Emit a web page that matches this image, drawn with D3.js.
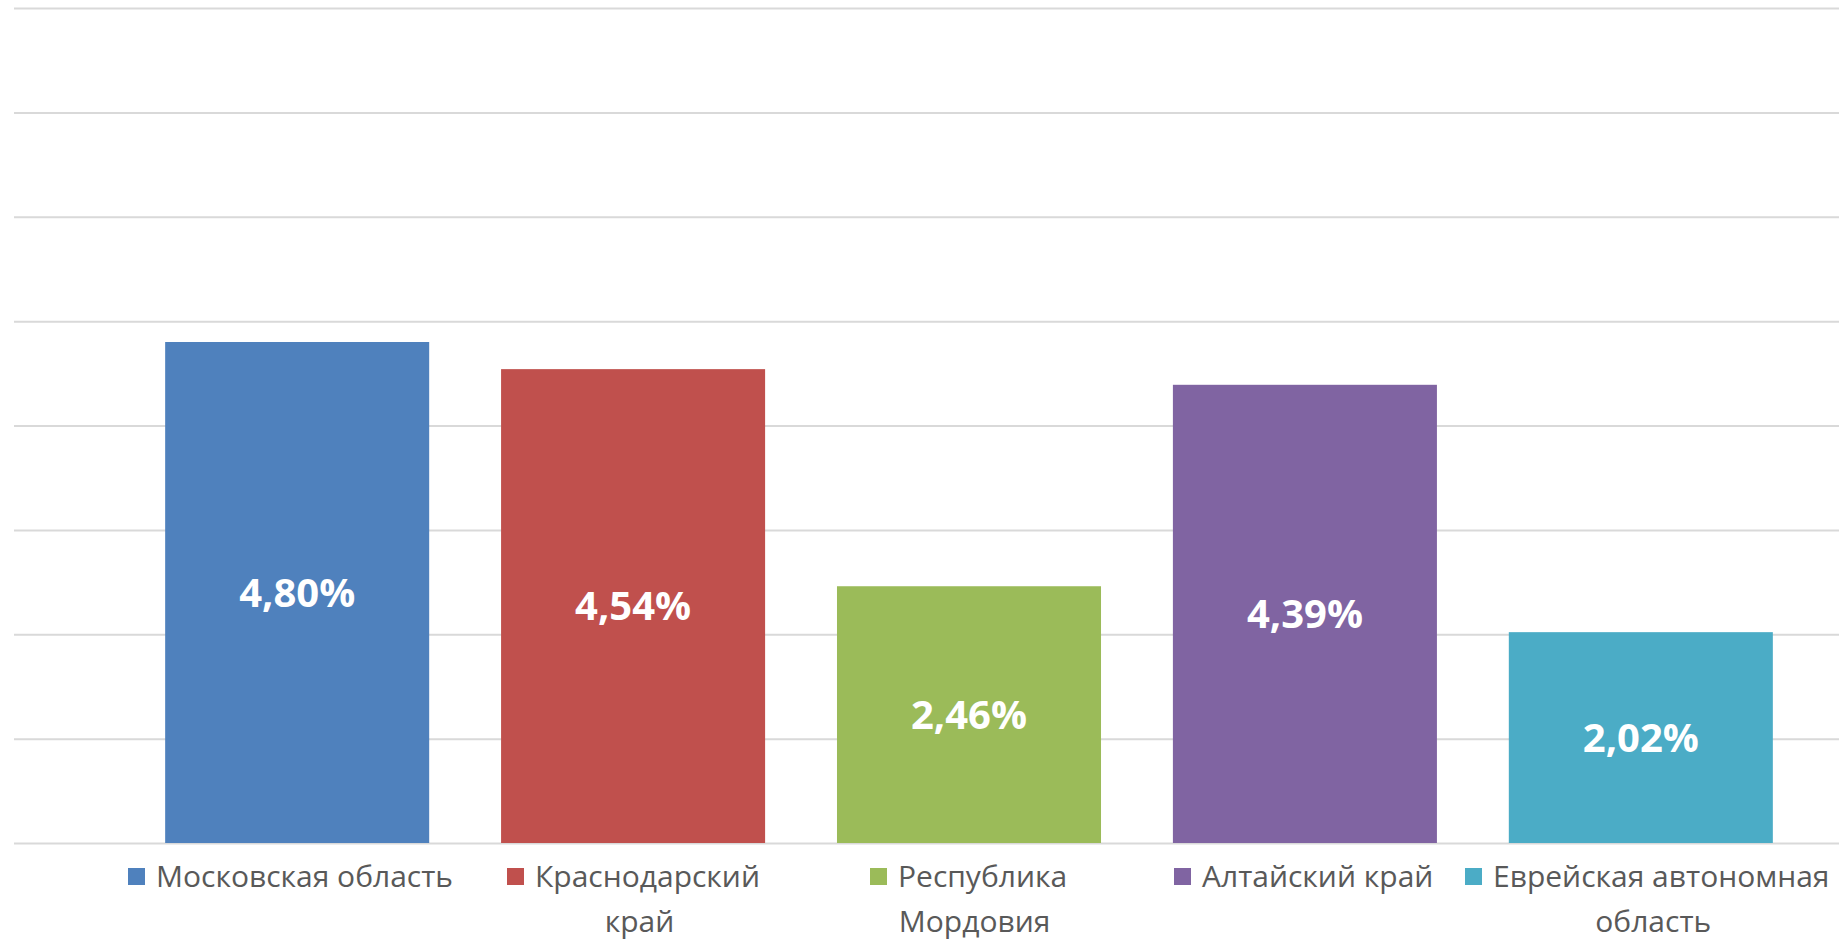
<!DOCTYPE html>
<html>
<head>
<meta charset="utf-8">
<script src="https://cdnjs.cloudflare.com/ajax/libs/d3/7.8.5/d3.min.js"></script>
<style>
  body { margin: 0; background: #fff; }
  svg { display: block; }
</style>
</head>
<body>
<div id="chart"></div>
<script>
// DATA
var regions = ["Московская область", "Краснодарский край", "Республика Мордовия", "Алтайский край", "Еврейская автономная область"];
var legendLines = [["Московская область"], ["Краснодарский", "край"], ["Республика", "Мордовия"], ["Алтайский край"], ["Еврейская автономная", "область"]];
var values = [0.048, 0.0454, 0.0246, 0.0439, 0.0202];
var labels = ["4,80%", "4,54%", "2,46%", "4,39%", "2,02%"];
var colors = ["#4F81BD", "#C0504D", "#9BBB59", "#8064A2", "#4BACC6"];
var gridTicks = [0, 0.01, 0.02, 0.03, 0.04, 0.05, 0.06, 0.07, 0.08];

// layout
var width = 1839, height = 941;
var plotLeft = 14, plotRight = 1924, plotTop = 8, plotBottom = 843;
var legendTextX = [156, 535, 898, 1202, 1493]; // where each legend label starts

var svg = d3.select("#chart").append("svg")
    .attr("width", width)
    .attr("height", height);

var x = d3.scaleBand()
    .domain(regions)
    .range([plotLeft, plotRight])
    .paddingInner(0.214)
    .paddingOuter(0.45);

var y = d3.scaleLinear()
    .domain([0, 0.08])
    .range([plotBottom, plotTop]);

// gridlines
var yAxis = d3.axisLeft(y)
    .tickValues(gridTicks)
    .tickSize(-(plotRight - plotLeft))
    .tickFormat("");

var grid = svg.append("g")
    .attr("transform", "translate(" + plotLeft + ",0)")
    .call(yAxis);
grid.select(".domain").remove();
grid.selectAll(".tick line")
    .attr("stroke", "#D9D9D9")
    .attr("stroke-width", 2);

// bars
svg.selectAll("rect.bar")
    .data(values)
    .enter()
    .append("rect")
    .attr("class", "bar")
    .attr("x", function(d, i) { return x(regions[i]); })
    .attr("y", function(d) { return y(d); })
    .attr("width", x.bandwidth())
    .attr("height", function(d) { return y(0) - y(d); })
    .attr("fill", function(d, i) { return colors[i]; });

// data labels
svg.selectAll("text.val")
    .data(values)
    .enter()
    .append("text")
    .attr("class", "val")
    .attr("x", function(d, i) { return x(regions[i]) + x.bandwidth() / 2; })
    .attr("y", function(d) { return (y(d) + y(0)) / 2; })
    .attr("dy", "0.36em")
    .attr("text-anchor", "middle")
    .attr("fill", "#fff")
    .style("font-family", "'Open Sans', sans-serif")
    .style("font-weight", "bold")
    .style("font-size", "40px")
    .text(function(d, i) { return labels[i]; });

// legend
var legend = svg.append("g").attr("class", "legend");
legendLines.forEach(function(lines, i) {
    var tx = legendTextX[i];
    legend.append("rect")
        .attr("x", tx - 28)
        .attr("y", 868)
        .attr("width", 17)
        .attr("height", 17)
        .attr("fill", colors[i]);

    var first = legend.append("text")
        .attr("x", tx)
        .attr("y", 887)
        .attr("fill", "#595959")
        .style("font-family", "'Open Sans', sans-serif")
        .style("font-size", "30px")
        .text(lines[0]);

    if (lines.length > 1) {
        var w = first.node().getComputedTextLength();
        legend.append("text")
            .attr("x", tx + w / 2 - 8)
            .attr("y", 932)
            .attr("text-anchor", "middle")
            .attr("fill", "#595959")
            .style("font-family", "'Open Sans', sans-serif")
            .style("font-size", "30px")
            .text(lines[1]);
    }
});
</script>
</body>
</html>
